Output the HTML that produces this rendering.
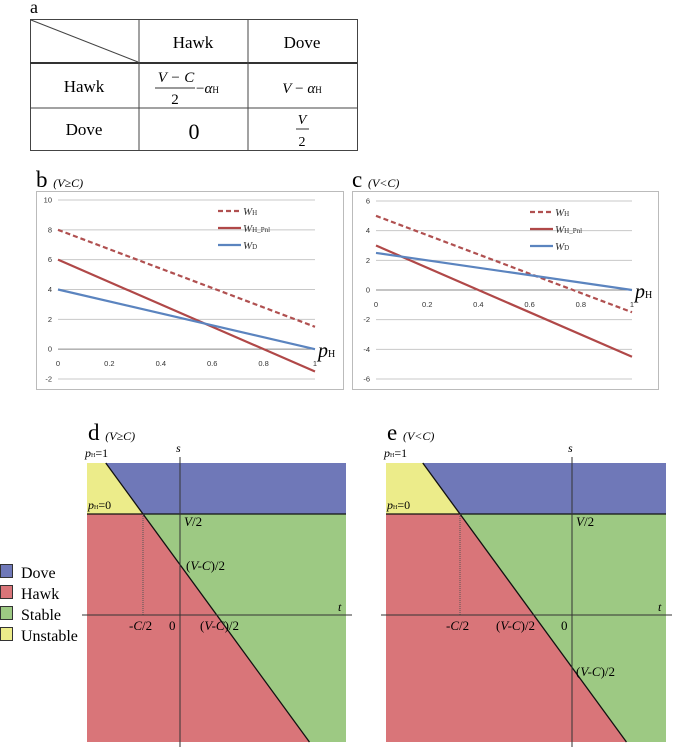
<!DOCTYPE html>
<html><head><meta charset="utf-8"><style>
html,body{margin:0;padding:0;background:#fff;}
svg{display:block;font-family:"Liberation Serif",serif;}
.tk{font-family:"Liberation Sans",sans-serif;font-size:7.5px;fill:#333;}
</style></head><body>
<svg id="fig" width="685" height="749" viewBox="0 0 685 749" xmlns="http://www.w3.org/2000/svg">
<!-- Panel a: payoff table -->
<g>
<text x="30" y="13" font-size="18">a</text>
<rect x="30.5" y="19.5" width="327" height="131" fill="none" stroke="#444" stroke-width="1"/>
<line x1="30" y1="63" x2="357" y2="63" stroke="#333" stroke-width="2"/>
<line x1="30" y1="108" x2="357" y2="108" stroke="#444"/>
<line x1="139" y1="19" x2="139" y2="151" stroke="#444"/>
<line x1="248" y1="19" x2="248" y2="151" stroke="#444"/>
<line x1="31" y1="20" x2="138" y2="62" stroke="#444"/>
<text x="193" y="48" font-size="17" text-anchor="middle">Hawk</text>
<text x="302" y="48" font-size="17" text-anchor="middle">Dove</text>
<text x="84" y="92" font-size="17" text-anchor="middle">Hawk</text>
<text x="84" y="135" font-size="17" text-anchor="middle">Dove</text>
<text x="176" y="82" font-size="15" text-anchor="middle" font-style="italic">V − C</text>
<line x1="155" y1="88" x2="195" y2="88" stroke="#333"/>
<text x="175" y="104" font-size="15" text-anchor="middle">2</text>
<text x="196" y="93" font-size="15">−<tspan font-style="italic">α</tspan><tspan font-size="9">H</tspan></text>
<text x="302" y="93" font-size="15" text-anchor="middle"><tspan font-style="italic">V</tspan> − <tspan font-style="italic">α</tspan><tspan font-size="9">H</tspan></text>
<text x="194" y="139" font-size="22" text-anchor="middle">0</text>
<text x="302" y="124" font-size="14" text-anchor="middle" font-style="italic">V</text>
<line x1="296" y1="129" x2="309" y2="129" stroke="#333"/>
<text x="302" y="146" font-size="14" text-anchor="middle">2</text>
</g>

<g id="chartB"></g>
<g id="chartC"></g>
<g id="regionD"></g>
<g id="regionE"></g>

<g>
<rect x="0.5" y="564.5" width="12" height="13" fill="#6f78b8" stroke="#333"/>
<text x="21" y="578" font-size="16">Dove</text>
<rect x="0.5" y="585.5" width="12" height="13" fill="#d97579" stroke="#333"/>
<text x="21" y="599" font-size="16">Hawk</text>
<rect x="0.5" y="606.5" width="12" height="13" fill="#9dc983" stroke="#333"/>
<text x="21" y="620" font-size="16">Stable</text>
<rect x="0.5" y="627.5" width="12" height="13" fill="#ecec8a" stroke="#333"/>
<text x="21" y="641" font-size="16">Unstable</text>
</g>
</svg>
<script>
const NS="http://www.w3.org/2000/svg";
// Chart b data
const bX=[0,1];
const bWH=[8,1.5];
const bWHPnl=[6,-1.5];
const bWD=[4,0];
const bYTicks=[10,8,6,4,2,0,-2];
const bXTicks=[0,0.2,0.4,0.6,0.8,1];
// Chart c data
const cX=[0,1];
const cWH=[5,-1.5];
const cWHPnl=[3,-4.5];
const cWD=[2.5,0];
const cYTicks=[6,4,2,0,-2,-4,-6];
const cXTicks=[0,0.2,0.4,0.6,0.8,1];
const seriesNames=["W_H","W_H_Pnl","W_D"];

function mk(tag,attrs,parent){const e=document.createElementNS(NS,tag);for(const k in attrs)e.setAttribute(k,attrs[k]);parent.appendChild(e);return e;}

function lineChart(g,o){
  mk('rect',{x:o.fx+.5,y:191.5,width:o.fw,height:198,fill:'#fff',stroke:'#bbb'},g);
  const ymin=o.yt[o.yt.length-1],ymax=o.yt[0];
  const sx=v=>o.x0+(o.x1-o.x0)*v;
  const sy=v=>o.yTop+(o.yBot-o.yTop)*(ymax-v)/(ymax-ymin);
  o.yt.forEach(t=>{
    const gl=mk('line',{x1:o.x0,x2:o.x1,y1:sy(t),y2:sy(t),stroke:t===0?'#888':'#c8c8c8','stroke-width':1},g);
    
    
    const tl=mk('text',{x:o.x0-6,y:sy(t)+2.5,'text-anchor':'end',class:'tk'},g);tl.textContent=t;
    
    
  });
  o.xt.forEach(t=>{
    const tl=mk('text',{x:sx(t),y:sy(0)+17,'text-anchor':'middle',class:'tk'},g);tl.textContent=t;
    
    
  });
  const ser=[[o.wh,'#b05050','5,3'],[o.pnl,'#b04848',''],[o.wd,'#5b84bf','']];
  ser.forEach((s,i)=>{
    const l=mk('line',{x1:sx(o.xs[0]),y1:sy(s[0][0]),x2:sx(o.xs[1]),y2:sy(s[0][1]),stroke:s[1],'stroke-width':2.2,'stroke-dasharray':s[2]},g);
    
    
  });
  const subs=['H','H_Pnl','D'];
  ser.forEach((s,i)=>{
    const y=o.ly+i*17;
    mk('line',{x1:o.lx,x2:o.lx+23,y1:y,y2:y,stroke:s[1],'stroke-width':2.2,'stroke-dasharray':s[2]},g);
    const t=mk('text',{x:o.lx+25,y:y+4,'font-size':11,'font-style':'italic',fill:'#333'},g);
    t.innerHTML='W<tspan font-size="7" font-style="normal">'+subs[i]+'</tspan>';
    
    
  });
  const p=mk('text',{x:o.x1+3,y:sy(0)+8,'font-size':20,'font-style':'italic'},g);
  p.innerHTML='p<tspan font-size="10" font-style="normal">H</tspan>';
  
  
  const lab=mk('text',{x:o.fx,y:187,'font-size':23},g);
  lab.innerHTML=o.label+' <tspan font-size="12" font-style="italic">'+o.cond+'</tspan>';
  
  
}
lineChart(document.getElementById('chartB'),{fx:36,fw:307,x0:58,x1:315,yTop:200,yBot:379,yt:bYTicks,xt:bXTicks,xs:bX,wh:bWH,pnl:bWHPnl,wd:bWD,lx:218,ly:211,label:'b',cond:'(V≥C)'});
lineChart(document.getElementById('chartC'),{fx:352,fw:306,x0:376,x1:632,yTop:201,yBot:379,yt:cYTicks,xt:cXTicks,xs:cX,wh:cWH,pnl:cWHPnl,wd:cWD,lx:530,ly:212,label:'c',cond:'(V&lt;C)'});

function region(g,o){
  const top=463,bot=742,by=514,ay=615;
  const lineX=y=>o.ix+(y-by)*o.slope;
  const add=(pts,fill,name)=>{const p=mk('polygon',{points:pts.map(q=>q.join(',')).join(' '),fill:fill},g);
    
    };
  add([[o.l,top],[o.r,top],[o.r,by],[o.ix,by],[lineX(top),top]],'#6f78b8','dove-region');
  add([[o.l,top],[lineX(top),top],[o.ix,by],[o.l,by]],'#ecec8a','unstable-region');
  add([[o.ix,by],[o.r,by],[o.r,bot],[lineX(bot),bot]],'#9dc983','stable-region');
  add([[o.l,by],[o.ix,by],[lineX(bot),bot],[o.l,bot]],'#d97579','hawk-region');
  mk('line',{x1:o.l,x2:o.r,y1:by,y2:by,stroke:'#111','stroke-width':1.3},g);
  mk('line',{x1:lineX(top),y1:top,x2:lineX(bot),y2:bot,stroke:'#111','stroke-width':1.3},g);
  mk('line',{x1:o.ix,x2:o.ix,y1:by,y2:ay,stroke:'#555','stroke-dasharray':'1,1'},g);
  mk('line',{x1:o.l-5,x2:o.r+6,y1:ay,y2:ay,stroke:'#333'},g);
  mk('line',{x1:o.sx,x2:o.sx,y1:457,y2:747,stroke:'#333'},g);
  const T=(x,y,s,h,fs)=>{const t=mk('text',{x:x,y:y,'font-size':fs||13},g);t.innerHTML=h;};
  T(o.l-2,457,0,'<tspan font-style="italic">p</tspan><tspan font-size="6">H</tspan>=1',12);
  T(o.l+1,509,0,'<tspan font-style="italic">p</tspan><tspan font-size="6">H</tspan>=0',12);
  T(o.sx-4,452,0,'<tspan font-style="italic">s</tspan>',12);
  T(o.r-8,611,0,'<tspan font-style="italic">t</tspan>',12);
  T(o.sx+4,526,0,'<tspan font-style="italic">V</tspan>/2',13);
  T(o.ix-14,630,0,'-<tspan font-style="italic">C</tspan>/2',13);
  T(o.sx-11,630,0,'0',13);
  T(o.vc1x,o.vc1y,0,'(<tspan font-style="italic">V-C</tspan>)/2',13);
  T(o.vc2x,o.vc2y,0,'(<tspan font-style="italic">V-C</tspan>)/2',13);
  const lab=mk('text',{x:o.l+1,y:440,'font-size':23},g);
  lab.innerHTML=o.label+' <tspan font-size="12" font-style="italic">'+o.cond+'</tspan>';
}
region(document.getElementById('regionD'),{l:87,r:346,ix:143,slope:0.73,sx:180,vc1x:186,vc1y:570,vc2x:200,vc2y:630,label:'d',cond:'(V≥C)'});
region(document.getElementById('regionE'),{l:386,r:666,ix:460,slope:0.73,sx:572,vc1x:496,vc1y:630,vc2x:576,vc2y:676,label:'e',cond:'(V&lt;C)'});
</script>
</body></html>
